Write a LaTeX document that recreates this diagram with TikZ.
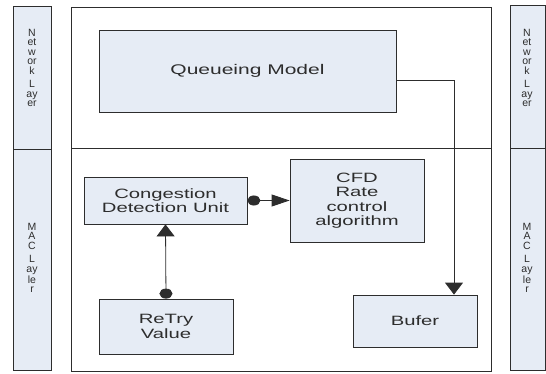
\documentclass[tikz,border=0pt]{standalone}
\usepackage{fontspec}
\setmainfont{Liberation Sans}[FakeStretch=1.5]
\newfontfamily\stripfont{Liberation Sans}
\usetikzlibrary{arrows.meta}
\definecolor{boxfill}{RGB}{230,236,245}
\definecolor{inkgray}{RGB}{45,45,45}
\tikzset{
  blk/.style={draw=inkgray, fill=boxfill, line width=0.8pt, inner sep=0pt, align=center,
    text=inkgray, font=\fontsize{13.5}{14.5}\selectfont},
  lbl/.style={inner sep=0pt, align=center, text=inkgray, font=\stripfont\fontsize{10.5}{9.5}\selectfont},
  conn/.style={draw=inkgray, line width=0.8pt},
  hconn/.style={conn, {Circle[length=13pt,width=10pt]}-{Triangle[length=18pt,width=12pt]}},
  vconn/.style={conn, {Circle[length=10pt,width=13pt]}-{Triangle[length=12pt,width=18pt]}},
  downconn/.style={conn, -{Triangle[length=12pt,width=18pt]}},
}
\begin{document}
\begin{tikzpicture}[x=1pt,y=-1pt]
        \useasboundingbox (0,0) rectangle (546,374);
        % layer strips
        \draw[conn, fill=boxfill] (13,6) rectangle (51,370);
        \draw[conn] (13,149) -- (51,149);
        \draw[conn, fill=boxfill] (510,5) rectangle (545,370);
        \draw[conn] (510,148) -- (545,148);
        \node[lbl] (netl) at (32,68) {N\\et\\w\\or\\k\\[4pt]L\\ay\\er};
        \node[lbl] (macl) at (32,258) {M\\A\\C\\[4pt]L\\ay\\le\\r};
        \node[lbl] (netr) at (527,68) {N\\et\\w\\or\\k\\[4pt]L\\ay\\er};
        \node[lbl] (macr) at (527,258) {M\\A\\C\\[4pt]L\\ay\\le\\r};
        % main frame
        \draw[conn] (71,7) rectangle (491,371);
        \draw[conn] (71,148) -- (491,148);
        % blocks
        \node[blk, minimum width=297pt, minimum height=82pt, font=\fontsize{14}{16}\selectfont] (queue) at (247.5,71) {Queueing Model};
        \node[blk, minimum width=163pt, minimum height=47pt] (cdu) at (165.5,200.5) {Congestion\\Detection Unit};
        \node[blk, minimum width=134pt, minimum height=83pt] (cfd) at (357,200.5) {CFD\\Rate\\control\\algorithm};
        \node[blk, minimum width=134pt, minimum height=55pt] (retry) at (166,326.5) {ReTry\\Value};
        \node[blk, minimum width=124pt, minimum height=52pt] (buf) at (415,321) {Bufer};
        % connectors
        \coordinate (qout) at ([yshift=-9pt]queue.east);
        \draw[hconn] (cdu.east) -- (cfd.west);
        \draw[vconn] (retry.north) -- (cdu.south);
        \draw[downconn] (qout) -| ([xshift=39pt]buf.north);
    \end{tikzpicture}
\end{document}
